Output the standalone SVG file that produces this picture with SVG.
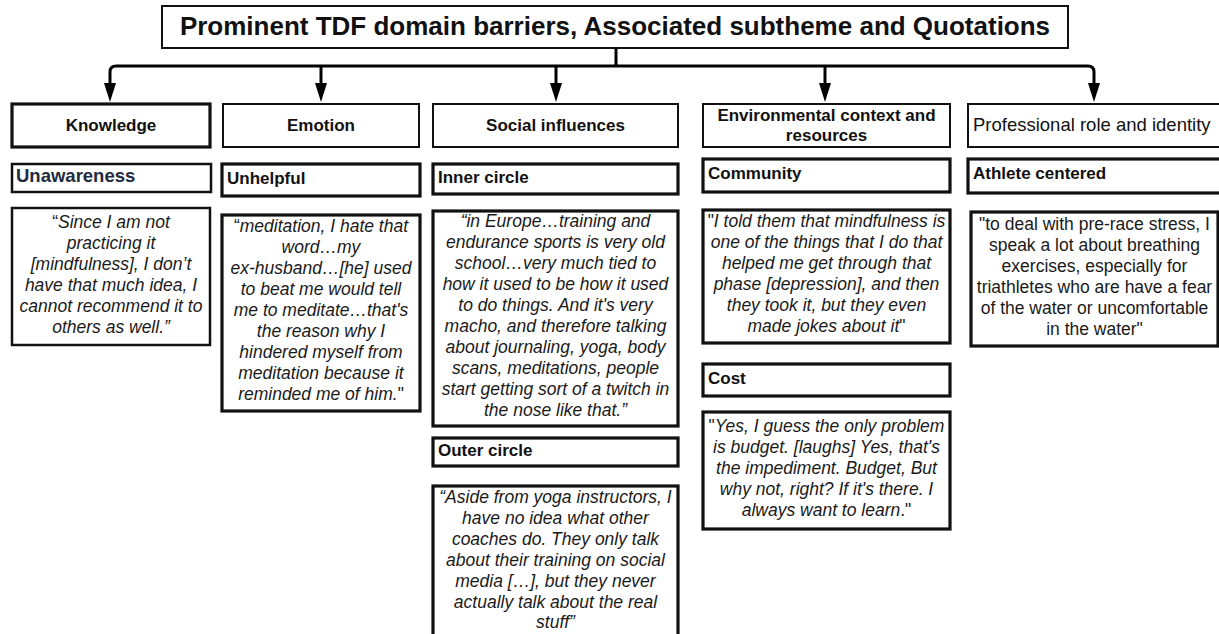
<svg xmlns="http://www.w3.org/2000/svg" xmlns:xlink="http://www.w3.org/1999/xlink" width="1219" height="634" viewBox="0 0 1219 634">
<style>
text{font-family:"Liberation Sans",Arial,sans-serif;fill:#111;}
.box{fill:#fff;stroke:#111;stroke-width:2.5;}
.thin{stroke-width:2;}
.thick{stroke-width:3.2;}
.title{font-size:26px;font-weight:bold;text-anchor:middle;}
.hd{font-size:17px;font-weight:bold;text-anchor:middle;}
.sub{font-size:17px;font-weight:bold;}
.q{font-size:17.5px;font-style:italic;text-anchor:middle;fill:#1a1a1a;}
.qr{font-size:17.5px;text-anchor:middle;fill:#1a1a1a;}
.up{font-style:normal;}
.conn{fill:none;stroke:#000;stroke-width:3;}
</style>
<defs>
<path id="ah" d="M-6,0 L6,0 L0,19 Z" fill="#000"/>
</defs>
<rect width="1219" height="634" fill="#fff"/>

<g id="title">
<rect class="box thin" x="162" y="6" width="906" height="42"/>
<text class="title" x="615" y="35">Prominent TDF domain barriers, Associated subtheme and Quotations</text>
</g>

<g id="connectors">
<path class="conn" d="M616,48 V66"/>
<path class="conn" d="M110,85 V72 Q110,66 116,66 H1088 Q1094,66 1094,72 V85"/>
<path class="conn" d="M321,66 V85"/>
<path class="conn" d="M556,66 V85"/>
<path class="conn" d="M825,66 V85"/>
<use xlink:href="#ah" x="110" y="83"/>
<use xlink:href="#ah" x="321" y="83"/>
<use xlink:href="#ah" x="556" y="83"/>
<use xlink:href="#ah" x="825" y="83"/>
<use xlink:href="#ah" x="1094" y="83"/>
</g>

<g id="knowledge">
<rect class="box thick" x="12" y="104" width="198" height="43"/>
<text class="hd" x="111" y="131">Knowledge</text>
</g>
<g id="unawareness">
<rect class="box" x="12" y="164" width="199" height="28"/>
<text class="sub" x="16" y="182" style="font-size:18.5px;fill:#222a40">Unawareness</text>
</g>
<g id="quote-knowledge">
<rect class="box" x="12" y="208" width="198" height="137"/>
<text class="q"><tspan x="111" y="228"><tspan class="up">“</tspan>Since I am not</tspan><tspan x="111" y="249">practicing it</tspan><tspan x="111" y="270">[mindfulness], I don’t</tspan><tspan x="111" y="291">have that much idea, I</tspan><tspan x="111" y="312">cannot recommend it to</tspan><tspan x="111" y="333">others as well.”</tspan></text>
</g>

<g id="emotion">
<rect class="box thin" x="223" y="104" width="196" height="43"/>
<text class="hd" x="321" y="131">Emotion</text>
</g>
<g id="unhelpful">
<rect class="box thick" x="222" y="164" width="198" height="32"/>
<text class="sub" x="227" y="184">Unhelpful</text>
</g>
<g id="quote-emotion">
<rect class="box thick" x="222" y="215" width="198" height="196"/>
<text class="q"><tspan x="321" y="232"><tspan class="up">“</tspan>meditation, I hate that</tspan><tspan x="321" y="253">word…my</tspan><tspan x="321" y="274">ex-husband…[he] used</tspan><tspan x="321" y="295">to beat me would tell</tspan><tspan x="321" y="316">me to meditate…that's</tspan><tspan x="321" y="337">the reason why I</tspan><tspan x="321" y="358">hindered myself from</tspan><tspan x="321" y="379">meditation because it</tspan><tspan x="321" y="400">reminded me of him.<tspan class="up">"</tspan></tspan></text>
</g>

<g id="social">
<rect class="box thin" x="433" y="104" width="245" height="43"/>
<text class="hd" x="555.5" y="131">Social influences</text>
</g>
<g id="inner-circle">
<rect class="box thick" x="433" y="164" width="245" height="30"/>
<text class="sub" x="438" y="183">Inner circle</text>
</g>
<g id="quote-inner">
<rect class="box thick" x="433" y="211" width="245" height="215"/>
<text class="q"><tspan x="555.5" y="227">“in Europe…training and</tspan><tspan x="555.5" y="248">endurance sports is very old</tspan><tspan x="555.5" y="269">school…very much tied to</tspan><tspan x="555.5" y="290">how it used to be how it used</tspan><tspan x="555.5" y="311">to do things. And it's very</tspan><tspan x="555.5" y="332">macho, and therefore talking</tspan><tspan x="555.5" y="353">about journaling, yoga, body</tspan><tspan x="555.5" y="374">scans, meditations, people</tspan><tspan x="555.5" y="395">start getting sort of a twitch in</tspan><tspan x="555.5" y="416">the nose like that.”</tspan></text>
</g>
<g id="outer-circle">
<rect class="box thick" x="433" y="438" width="245" height="28"/>
<text class="sub" x="438" y="456">Outer circle</text>
</g>
<g id="quote-outer">
<rect class="box thick" x="433" y="486" width="245" height="160"/>
<text class="q"><tspan x="555.5" y="503">“Aside from yoga instructors, I</tspan><tspan x="555.5" y="524">have no idea what other</tspan><tspan x="555.5" y="545">coaches do. They only talk</tspan><tspan x="555.5" y="566">about their training on social</tspan><tspan x="555.5" y="587">media […], but they never</tspan><tspan x="555.5" y="608">actually talk about the real</tspan><tspan x="555.5" y="628">stuff”</tspan></text>
</g>

<g id="environmental">
<rect class="box thin" x="703" y="104" width="247" height="43"/>
<text class="hd"><tspan x="826.5" y="121">Environmental context and</tspan><tspan x="826.5" y="141">resources</tspan></text>
</g>
<g id="community">
<rect class="box thick" x="703" y="159" width="247" height="33"/>
<text class="sub" x="708" y="179">Community</text>
</g>
<g id="quote-community">
<rect class="box thick" x="703" y="210" width="247" height="133"/>
<text class="q"><tspan x="826.5" y="227"><tspan class="up">"</tspan>I told them that mindfulness is</tspan><tspan x="826.5" y="248">one of the things that I do that</tspan><tspan x="826.5" y="269">helped me get through that</tspan><tspan x="826.5" y="290">phase [depression], and then</tspan><tspan x="826.5" y="311">they took it, but they even</tspan><tspan x="826.5" y="332">made jokes about it<tspan class="up">"</tspan></tspan></text>
</g>
<g id="cost">
<rect class="box thick" x="703" y="364" width="247" height="32"/>
<text class="sub" x="708" y="384">Cost</text>
</g>
<g id="quote-cost">
<rect class="box thick" x="703" y="412" width="247" height="117"/>
<text class="q"><tspan x="826.5" y="432"><tspan class="up">"</tspan>Yes, I guess the only problem</tspan><tspan x="826.5" y="453">is budget. [laughs] Yes, that's</tspan><tspan x="826.5" y="474">the impediment. Budget, But</tspan><tspan x="826.5" y="495">why not, right? If it's there. I</tspan><tspan x="826.5" y="516">always want to learn<tspan class="up">."</tspan></tspan></text>
</g>

<g id="professional">
<rect class="box thin" x="968" y="104" width="260" height="43"/>
<text x="973" y="131" style="font-size:18.5px">Professional role and identity</text>
</g>
<g id="athlete-centered">
<rect class="box thick" x="968" y="159" width="260" height="34"/>
<text class="sub" x="973" y="179">Athlete centered</text>
</g>
<g id="quote-athlete">
<rect class="box thick" x="971" y="212" width="247" height="134"/>
<text class="qr"><tspan x="1094.5" y="230">"to deal with pre-race stress, I</tspan><tspan x="1094.5" y="251">speak a lot about breathing</tspan><tspan x="1094.5" y="272">exercises, especially for</tspan><tspan x="1094.5" y="293">triathletes who are have a fear</tspan><tspan x="1094.5" y="314">of the water or uncomfortable</tspan><tspan x="1094.5" y="335">in the water"</tspan></text>
</g>
</svg>
